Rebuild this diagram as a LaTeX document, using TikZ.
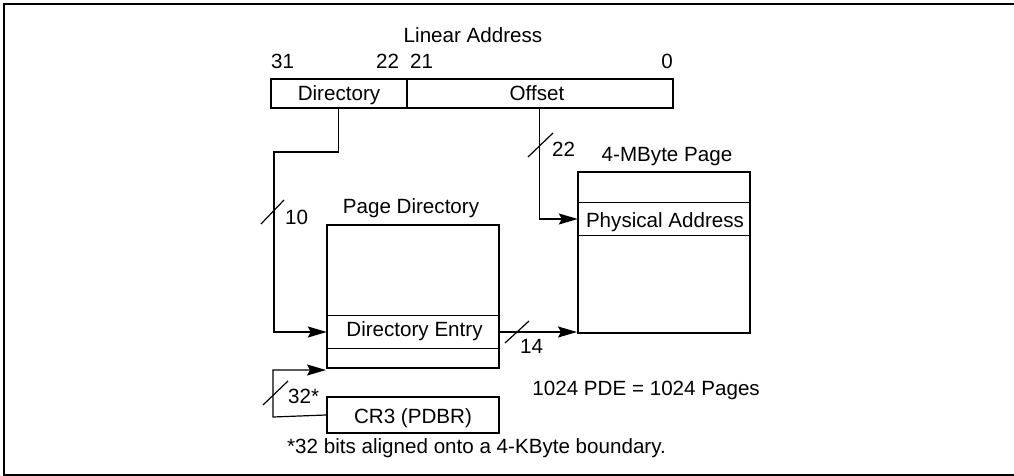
\documentclass[tikz,border=0pt]{standalone}
\usepackage{fontspec}
\setmainfont{Liberation Sans}
\usetikzlibrary{arrows.meta}
\begin{document}
\begin{tikzpicture}[x=1pt,y=-1pt,
  every node/.style={font=\fontsize{20.6}{24}\selectfont},
  box/.style={draw,line width=2pt,inner sep=0pt,rectangle},
  row/.style={draw=none,inner sep=0pt,rectangle},
  lbl/.style={inner sep=0pt,anchor=base},
  lbll/.style={inner sep=0pt,anchor=base west},
  wire/.style={line width=1.2pt},
  arr/.style={wire,-{Stealth[length=19pt,width=11pt,inset=3pt]}},
  frame/.style={line width=2pt}]
\useasboundingbox (0,0) rectangle (1014,476);
\draw[frame] (1014,4.5) -- (3.5,4.5) -- (3.5,474.5) -- (1014,474.5);

% Linear address
\node[box,minimum width=136pt,minimum height=29pt] (dir) at (338.7,93.5) {};
\node[box,minimum width=266.3pt,minimum height=29pt] (off) at (539.85,93.5) {};
\node[lbl] (tdir) at (339,101) {Directory};
\node[lbl] (toff) at (537,101) {Offset};
\node[lbl] (tla) at (473,43) {Linear Address};
\node[lbll] (b31) at (271,68.3) {31};
\node[lbll] (b22) at (376,68.3) {22};
\node[lbll] (b21) at (410,68.3) {21};
\node[inner sep=0pt,anchor=base east] (b0) at (673,68.3) {0};

% Page directory
\node[box,minimum width=172pt,minimum height=143pt] (pd) at (413,296.5) {};
\node[row,minimum width=172pt,minimum height=32pt] (de) at (413,332) {};
\draw[wire] (de.north west) -- (de.north east);
\draw[wire] (de.south west) -- (de.south east);
\node[lbl] (tde) at (414.5,336.7) {Directory Entry};
\node[lbl] (tpd) at (411,213) {Page Directory};

% 4-MByte page
\node[box,minimum width=172pt,minimum height=161pt] (pg) at (664,252.5) {};
\node[row,minimum width=172pt,minimum height=32pt] (pa) at (664,219) {};
\draw[wire] (pa.north west) -- (pa.north east);
\draw[wire] (pa.south west) -- (pa.south east);
\node[lbl] (tpa) at (665,227) {Physical Address};
\node[lbl] (tpg) at (667,161) {4-MByte Page};

% CR3
\node[box,minimum width=172pt,minimum height=36pt] (cr3) at (413,415) {};
\node[lbl] (tcr3) at (413,423) {CR3 (PDBR)};

% connectors
\coordinate (c1) at (274,152);
\draw[arr] (dir.south) |- (c1) |- (de.west);
\draw[arr] (off.south) |- (pa.west);
\draw[arr] (de.east) -- (de.east -| pg.west);
\coordinate (c2) at (273,417);
\draw[arr] (cr3.west) -- (c2) |- ([yshift=-1pt]pd.south west);

% slashes and widths
\draw[wire] (261,224) -- (284,200);
\node[lbll] (w10) at (285,224) {10};
\draw[wire] (528,157) -- (553,133);
\node[lbll] (w22) at (552,156.7) {22};
\draw[wire] (505,343) -- (529,321);
\node[lbll] (w14) at (520,353) {14};
\draw[wire] (263,405) -- (288,381);
\node[lbll] (w32) at (288,403) {32*};

% notes
\node[inner sep=0pt,anchor=base east] (n1) at (760,395) {1024 PDE = 1024 Pages};
\node[lbll] (n2) at (287,453) {*32 bits aligned onto a 4-KByte boundary.};
\end{tikzpicture}
\end{document}
